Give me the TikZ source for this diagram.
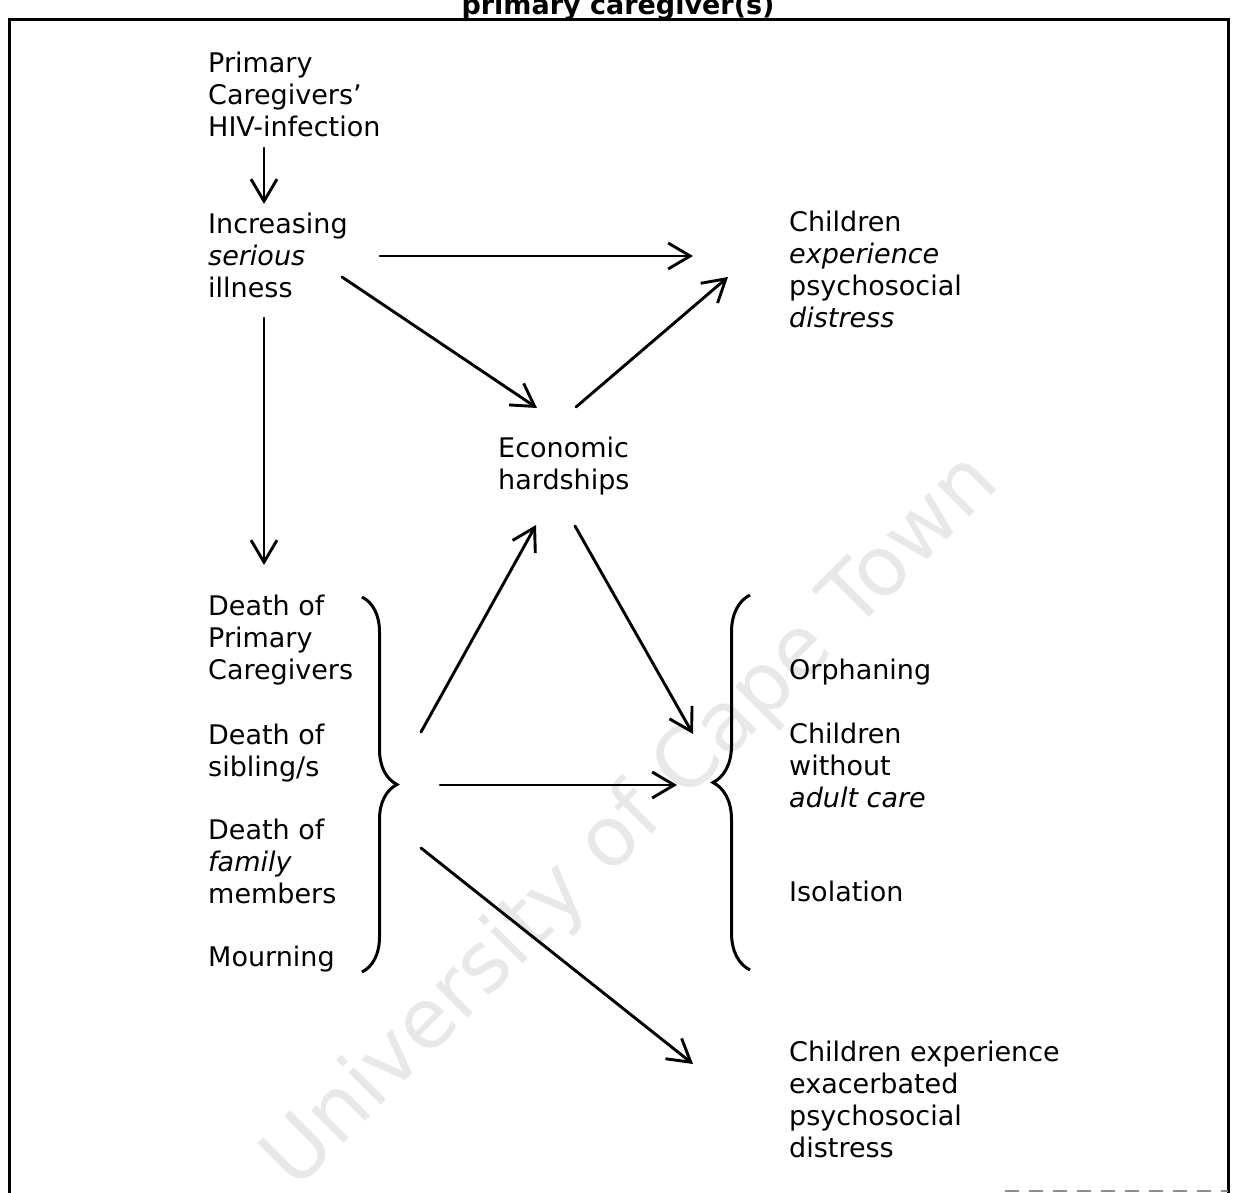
\documentclass[tikz,border=0pt]{standalone}
\usepackage{fontspec}
\setmainfont{DejaVu Sans}
\usetikzlibrary{arrows.meta,decorations.pathreplacing}
\begin{document}
\begin{tikzpicture}[x=1pt,y=-1pt,
  lbl/.style={font=\fontsize{27}{32}\selectfont, align=left, inner sep=0pt, anchor=north west},
  arr/.style={line width=2.9pt, line cap=round, -{Straight Barb[length=22pt,width=26pt,line width=2.9pt]}},
  bracestyle/.style={line width=3pt, decorate, decoration={brace, amplitude=#1}},
  frame/.style={line width=3pt},
  wmark/.style={font=\fontsize{83}{83}\selectfont, text=black!9, rotate=45, inner sep=0pt}]
\useasboundingbox (0,0) rectangle (1234,1193);
% watermark
\node[wmark] (wm) at (632,822) {University of Cape Town};
% frame and cut title
\draw[frame] (9,20) rectangle (1228,1215);
\draw[black!45, line width=1.5pt, dash pattern=on 14pt off 10pt] (1005,1191) -- (1228,1191);
\node[font=\fontsize{27}{32}\selectfont\bfseries, inner sep=0pt, anchor=base] (title) at (618,15) {primary caregiver(s)};
% text nodes
\node[lbl] (hiv) at (208,52) {Primary\\Caregivers'\\HIV-infection};
\node[lbl] (ill) at (208,213) {Increasing\\\textit{serious}\\illness};
\node[lbl] (psy) at (789,211) {Children\\\textit{experience}\\psychosocial\\\textit{distress}};
\node[lbl] (eco) at (498,437) {Economic\\hardships};
\node[lbl] (dpc) at (208,595) {Death of\\Primary\\Caregivers};
\node[lbl] (dsib) at (208,724) {Death of\\sibling/s};
\node[lbl] (dfam) at (208,819) {Death of\\\textit{family}\\members};
\node[lbl] (mou) at (208,946) {Mourning};
\node[lbl] (orp) at (789,659) {Orphaning};
\node[lbl] (wac) at (789,723) {Children\\without\\\textit{adult care}};
\node[lbl] (iso) at (789,881) {Isolation};
\node[lbl] (exa) at (789,1041) {Children experience\\exacerbated\\psychosocial\\distress};
% braces
\coordinate (lbt) at (362,597);
\coordinate (lbb) at (362,972);
\coordinate (rbt) at (750,595);
\coordinate (rbb) at (750,970);
\draw[bracestyle=35pt] (lbt) -- (lbb);
\draw[bracestyle=37pt, decoration={mirror}] (rbt) -- (rbb);
% connector ends
\coordinate (a1s) at (264,148);  \coordinate (a1e) at (264,204);
\coordinate (a2s) at (380,256);  \coordinate (a2e) at (693,256);
\coordinate (a3s) at (342,277);  \coordinate (a3e) at (537,408);
\coordinate (a4s) at (576,407);  \coordinate (a4e) at (728,277);
\coordinate (a5s) at (264,318);  \coordinate (a5e) at (264,565);
\coordinate (a6s) at (421,732);  \coordinate (a6e) at (536,525);
\coordinate (a7s) at (575,526);  \coordinate (a7e) at (693,734);
\coordinate (a8s) at (440,785);  \coordinate (a8e) at (677,785);
\coordinate (a9s) at (421,848);  \coordinate (a9e) at (693,1064);
\draw[arr] (a1s) -- (a1e);
\draw[arr] (a2s) -- (a2e);
\draw[arr] (a3s) -- (a3e);
\draw[arr] (a4s) -- (a4e);
\draw[arr] (a5s) -- (a5e);
\draw[arr] (a6s) -- (a6e);
\draw[arr] (a7s) -- (a7e);
\draw[arr] (a8s) -- (a8e);
\draw[arr] (a9s) -- (a9e);
\end{tikzpicture}
\end{document}
